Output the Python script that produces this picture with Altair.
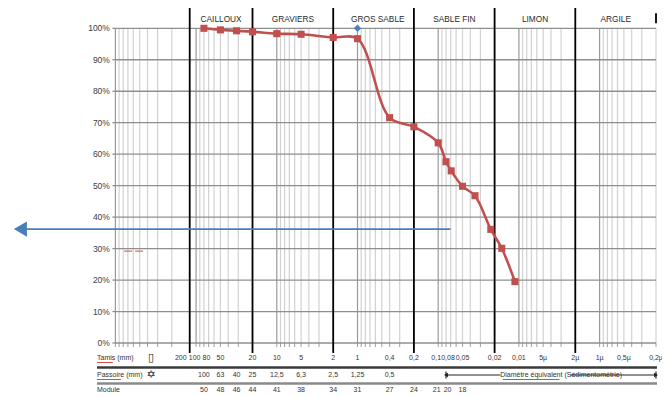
import altair as alt
import pandas as pd

# ---------------- values ----------------
diam_mm = [80, 50, 31.5, 20, 10, 5, 2, 1, 0.4, 0.2, 0.1, 0.08, 0.069, 0.05, 0.035, 0.0223, 0.0163, 0.0112]
passing_pct = [100, 99.5, 99.2, 98.9, 98.3, 98.1, 97.1, 96.7, 71.6, 68.7, 63.6, 57.6, 54.7, 49.8, 46.8, 36.1, 30.1, 19.5]

marker_mm = [1]
marker_pct = [100]

zone_bounds_mm = [120, 20, 2, 0.2, 0.02, 0.002]
zone_top_mm = [0.0002]
zone_names = ["CAILLOUX", "GRAVIERS", "GROS SABLE", "SABLE FIN", "LIMON", "ARGILE"]
zone_label_mm = [49, 6.3, 0.56, 0.063, 0.0063, 0.00063]

arrow_end_mm = [0.0705]
arrow_pct = [36.2]

dash_mm = [780, 430]
dash_pct = [29.2, 29.2]

tamis_vals = [50, 20, 10, 5, 2, 1, 0.4, 0.2, 0.05, 0.02, 0.01,
              0.005, 0.002, 0.001, 0.0005, 0.0002]
tamis_labels = ["50", "20", "10", "5", "2", "1", "0,4", "0,2", "0,05",
                "0,02", "0,01", "5µ", "2µ", "1µ", "0,5µ", "0,2µ"]
tamis_first_vals = [200, 100, 80]
tamis_first_labels = ["200", "100", "80"]
tamis_pair_vals = [0.1, 0.08]
tamis_pair_labels = ["0,1", "0,08"]

passoire_at = [80, 50, 31.5, 20, 10, 5, 2, 1, 0.4]
passoire_labels = ["100", "63", "40", "25", "12,5", "6,3", "2,5", "1,25", "0,5"]

module_at = [80, 50, 31.5, 20, 10, 5, 2, 1, 0.4, 0.2, 0.05]
module_labels = ["50", "48", "46", "44", "41", "38", "34", "31", "27", "24", "18"]
module_pair_at = [0.1, 0.08]
module_pair_labels = ["21", "20"]

sed_range_mm = [0.08, 0.0002]
sed_gap_mm = [0.017, 0.0023]
sed_text_mm = [0.003]
sed_label = ["Diamètre équivalent (Sédimentométrie)"]

y_ticks = list(range(0, 101, 10))
y_tick_labels = [f"{v}%" for v in y_ticks]
x_min, x_max = 0.0002, 1000

# log-axis gridlines (tick values of the log axis)
major_grid = [1000, 100, 10, 1, 0.1, 0.01, 0.001]
minor_grid = [round(n * 10.0 ** k, 10) for k in range(-4, 3) for n in range(2, 10)
              if x_min <= n * 10.0 ** k <= x_max]

# ---------------- layout ----------------
W, H = 540.6, 314.7
FONT = "Liberation Sans"
RED = "#C0504D"
BLUE = "#4A7EBB"

xs = alt.Scale(type="log", domain=[x_min, x_max], reverse=True, nice=False)
ys = alt.Scale(domain=[0, 100], nice=False, zero=False)


def X(field="x"):
    return alt.X(f"{field}:Q", scale=xs, axis=None)


def Y(field="y"):
    return alt.Y(f"{field}:Q", scale=ys, axis=None)


def one():
    return pd.DataFrame({"t": [0]})


layers = []

# vertical grid
layers.append(
    alt.Chart(pd.DataFrame({"x": minor_grid})).mark_rule(color="#d2d2d2", strokeWidth=1.2).encode(x=X())
)
layers.append(
    alt.Chart(pd.DataFrame({"x": major_grid})).mark_rule(color="#9a9a9a", strokeWidth=1.2).encode(x=X())
)
# bottom tick marks of the log axis
layers.append(
    alt.Chart(pd.DataFrame({"x": minor_grid + major_grid})).mark_rule(color="#a0a0a0", strokeWidth=1).encode(
        x=X(), y=alt.value(H), y2=alt.value(H + 4))
)
# horizontal grid
grid_y = pd.DataFrame({"y": y_ticks, "t": y_tick_labels})
layers.append(
    alt.Chart(grid_y).mark_rule(color="#8f8f8f", strokeWidth=1.3).encode(y=Y())
)
layers.append(
    alt.Chart(grid_y).mark_rule(color="#8f8f8f", strokeWidth=1.3).encode(
        y=Y(), x=alt.value(-3), x2=alt.value(0))
)
layers.append(
    alt.Chart(grid_y).mark_text(
        align="right", baseline="middle", font=FONT, fontSize=8.5, color="#404040"
    ).encode(y=Y(), x=alt.value(-5.5), text="t:N")
)
# zone separators
layers.append(
    alt.Chart(pd.DataFrame({"x": zone_bounds_mm})).mark_rule(color="black", strokeWidth=1.8).encode(
        x=X(), y=alt.value(-22), y2=alt.value(H + 10)
    )
)
layers.append(
    alt.Chart(pd.DataFrame({"x": zone_top_mm})).mark_rule(color="black", strokeWidth=1.8).encode(
        x=X(), y=alt.value(-15), y2=alt.value(-5)
    )
)
# zone names
layers.append(
    alt.Chart(pd.DataFrame({"x": zone_label_mm, "t": zone_names})).mark_text(
        font=FONT, fontSize=8.3, color="#2a2a2a", baseline="middle", align="center"
    ).encode(x=X(), y=alt.value(-8), text="t:N")
)
# small red dashed legend fragment
layers.append(
    alt.Chart(pd.DataFrame({"x": dash_mm, "y": dash_pct})).mark_line(
        color=RED, strokeWidth=1, strokeDash=[8, 3]
    ).encode(x=X(), y=Y())
)
# blue horizontal arrow
arrow_df = pd.DataFrame({"x": arrow_end_mm, "y": arrow_pct})
layers.append(
    alt.Chart(arrow_df).mark_rule(color=BLUE, strokeWidth=1.6).encode(
        x=X(), x2=alt.value(-92), y=Y()
    )
)
layers.append(
    alt.Chart(arrow_df).mark_point(shape="triangle-left", filled=True, size=230, color=BLUE, opacity=1).encode(
        x=alt.value(-95), y=Y()
    )
)
# grading curve
curve_df = pd.DataFrame({"x": diam_mm, "y": passing_pct})
layers.append(
    alt.Chart(curve_df).mark_line(color=RED, strokeWidth=2.6, interpolate="catmull-rom").encode(x=X(), y=Y())
)
layers.append(
    alt.Chart(curve_df).mark_point(shape="square", filled=True, size=50, color=RED, opacity=1).encode(x=X(), y=Y())
)
layers.append(
    alt.Chart(pd.DataFrame({"x": marker_mm, "y": marker_pct})).mark_point(
        shape="diamond", filled=True, size=55, color="#4F81BD", opacity=1
    ).encode(x=X(), y=Y())
)

# ---------------- table under the chart ----------------
R1, R2, R3 = H + 15, H + 32, H + 47
txt = dict(font=FONT, fontSize=7, color="#333333", baseline="middle")


def row_text(xv, labels, ry, dx=0):
    return alt.Chart(pd.DataFrame({"x": xv, "t": labels})).mark_text(align="center", dx=dx, **txt).encode(
        x=X(), y=alt.value(ry), text="t:N")


layers.append(row_text(tamis_vals, tamis_labels, R1))
layers.append(row_text(tamis_first_vals[:1], tamis_first_labels[:1], R1, dx=9))
layers.append(row_text(tamis_first_vals[1:2], tamis_first_labels[1:2], R1, dx=-1.5))
layers.append(row_text(tamis_first_vals[2:], tamis_first_labels[2:], R1, dx=2.5))
layers.append(row_text(tamis_pair_vals[:1], tamis_pair_labels[:1], R1, dx=-2))
layers.append(row_text(tamis_pair_vals[1:], tamis_pair_labels[1:], R1, dx=2))
layers.append(row_text(passoire_at, passoire_labels, R2))
layers.append(row_text(module_at, module_labels, R3))
layers.append(row_text(module_pair_at[:1], module_pair_labels[:1], R3, dx=-1.5))
layers.append(row_text(module_pair_at[1:], module_pair_labels[1:], R3, dx=1.5))

row_names = ["Tamis (mm)", "Passoire (mm)", "Module"]
for name, ry in zip(row_names, [R1, R2, R3]):
    layers.append(
        alt.Chart(pd.DataFrame({"t": [name]})).mark_text(align="left", **txt).encode(
            x=alt.value(-18.4), y=alt.value(ry), text="t:N")
    )
icons = ["▯", "✡"]
for ic, ry in zip(icons, [R1, R2]):
    layers.append(
        alt.Chart(pd.DataFrame({"t": [ic]})).mark_text(
            align="center", baseline="middle", font="DejaVu Sans", fontSize=11, fontWeight="bold", color="#111"
        ).encode(x=alt.value(35.6), y=alt.value(ry), text="t:N")
    )
# spell-check underlines
for x1, x2, uy in [(-18.4, -2.5, R1 + 4.5), (-18.4, 5.5, R2 + 4.5), (387.3, 444, R2 + 4.5)]:
    layers.append(
        alt.Chart(one()).mark_rule(color="#e03030", strokeWidth=0.9).encode(
            x=alt.value(x1), x2=alt.value(x2), y=alt.value(uy))
    )
# table separator lines
layers.append(
    alt.Chart(one()).mark_rule(color="#3a3a3a", strokeWidth=2.4).encode(
        x=alt.value(-18.4), x2=alt.value(W + 1), y=alt.value(H + 24.5))
)
layers.append(
    alt.Chart(one()).mark_rule(color="#8a8a8a", strokeWidth=2.4).encode(
        x=alt.value(-18.4), x2=alt.value(W + 1), y=alt.value(H + 40.5))
)
# sedimentometry arrow
sed_segments = pd.DataFrame({"x": [sed_range_mm[0], sed_gap_mm[1]], "x2": [sed_gap_mm[0], sed_range_mm[1]]})
layers.append(
    alt.Chart(sed_segments).mark_rule(color="#222", strokeWidth=1).encode(
        x=X(), x2=alt.X2("x2:Q"), y=alt.value(R2))
)
layers.append(
    alt.Chart(pd.DataFrame({"x": sed_range_mm})).mark_rule(color="#222", strokeWidth=1.2).encode(
        x=X(), y=alt.value(R2 - 3.5), y2=alt.value(R2 + 3.5))
)
layers.append(
    alt.Chart(pd.DataFrame({"x": sed_range_mm[:1]})).mark_point(
        shape="triangle-left", filled=True, size=22, color="#222", opacity=1, dx=3
    ).encode(x=X(), y=alt.value(R2))
)
layers.append(
    alt.Chart(pd.DataFrame({"x": sed_range_mm[1:]})).mark_point(
        shape="triangle-right", filled=True, size=22, color="#222", opacity=1, dx=-3
    ).encode(x=X(), y=alt.value(R2))
)
layers.append(
    alt.Chart(pd.DataFrame({"x": sed_text_mm, "t": sed_label})).mark_text(
        align="center", font=FONT, fontSize=7, color="#333333", baseline="middle"
    ).encode(x=X(), y=alt.value(R2), text="t:N")
)

chart = alt.layer(*layers).properties(
    width=W,
    height=H,
    padding={"left": 107.4, "top": 20.3, "right": 6, "bottom": 51},
    autosize=alt.AutoSizeParams(type="none"),
    background="white",
).configure_view(stroke="transparent")

chart.save("out.html", embed_options={"renderer": "svg", "actions": False})
